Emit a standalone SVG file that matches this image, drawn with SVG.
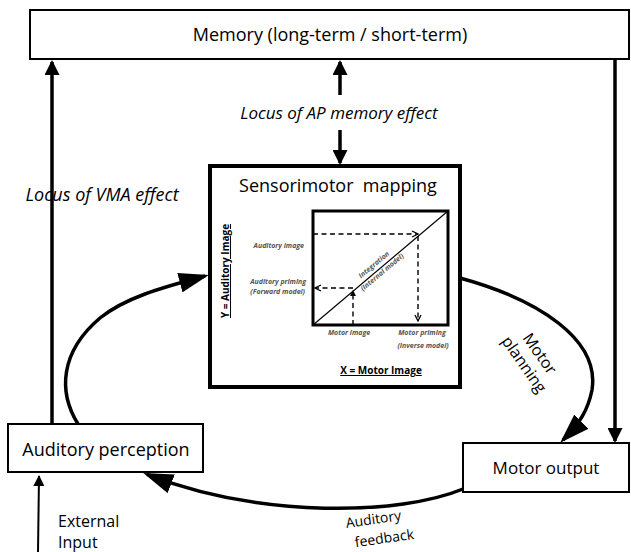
<svg xmlns="http://www.w3.org/2000/svg" width="631" height="552" viewBox="0 0 631 552">
<style>
  .box{fill:#fff;stroke:#000;stroke-width:2}
  .lbl{font-family:"Open Sans","Liberation Sans",sans-serif;fill:#000}
  .big{font-size:18px}
  .it{font-style:italic}
  .small{font-family:"Open Sans","Liberation Sans",sans-serif;font-size:7px;font-style:italic;font-weight:bold;fill:#555}
  .axis{font-family:"Open Sans","Liberation Sans",sans-serif;font-size:10px;font-weight:bold;fill:#000;text-decoration:underline}
  .line{fill:none;stroke:#000;stroke-width:3.5}
  .curve{fill:none;stroke:#000;stroke-width:3.5}
  .dash{fill:none;stroke:#000;stroke-width:1.4;stroke-dasharray:5 3.5}
</style>
<defs>
  <marker id="ahBig" markerUnits="userSpaceOnUse" markerWidth="30" markerHeight="20" viewBox="0 0 30 20" refX="26" refY="10" orient="auto">
    <path d="M0,0 L30,10 L0,20 z" fill="#000"/>
  </marker>
  <marker id="ahMed" markerUnits="userSpaceOnUse" markerWidth="15" markerHeight="15" viewBox="0 0 15 15" refX="13" refY="7.5" orient="auto">
    <path d="M0,0 L15,7.5 L0,15 z" fill="#000"/>
  </marker>
  <marker id="ahSmall" markerUnits="userSpaceOnUse" markerWidth="11" markerHeight="11" viewBox="0 0 11 11" refX="10" refY="5.5" orient="auto">
    <path d="M0,0 L11,5.5 L0,11 z" fill="#000"/>
  </marker>
  <marker id="chev" markerUnits="userSpaceOnUse" markerWidth="8" markerHeight="8" viewBox="0 0 8 8" refX="7" refY="4" orient="auto">
    <path d="M1,1 L7,4 L1,7" fill="none" stroke="#000" stroke-width="1.3"/>
  </marker>
  <marker id="tri" markerUnits="userSpaceOnUse" markerWidth="6" markerHeight="6" viewBox="0 0 6 6" refX="5" refY="3" orient="auto">
    <path d="M0,0 L6,3 L0,6 z" fill="#000"/>
  </marker>
</defs>
<rect width="631" height="552" fill="#fff"/>

<g id="connectors">
  <path id="c-ap-mem" class="line" d="M52,424 V62" marker-end="url(#ahMed)"/>
  <path id="c-sm-mem" class="line" d="M340,95 V62" marker-end="url(#ahMed)"/>
  <path id="c-mem-sm" class="line" d="M340,130 V163" marker-end="url(#ahMed)"/>
  <path id="c-mem-mo" class="line" d="M615,59 V441" marker-end="url(#ahMed)"/>
  <path id="c-ext-ap" fill="none" stroke="#000" stroke-width="2" d="M38,552 L39,476" marker-end="url(#ahSmall)"/>
  <path id="c-ap-sm" class="curve" d="M78,424 C58,392 60,352 100,318 C125,298 160,288 205,276" marker-end="url(#ahBig)"/>
  <path id="c-sm-mo" class="curve" d="M460,278 C540,300 600,340 592,390 C588,410 580,423 563,440" marker-end="url(#ahBig)"/>
  <path id="c-mo-ap" class="curve" d="M463,489 C400,515 262,519 147,474.4" marker-end="url(#ahBig)"/>
  <text class="lbl it" x="339" y="119" font-size="17" text-anchor="middle">Locus of AP memory effect</text>
  <text class="lbl it big" x="102" y="201" text-anchor="middle">Locus of VMA effect</text>
  <text class="lbl" font-size="16" x="58" y="527">External</text>
  <text class="lbl" font-size="16" x="58" y="548">Input</text>
  <text class="lbl" font-size="16" text-anchor="middle" transform="translate(532,359) rotate(55)"><tspan x="0" y="-4">Motor</tspan><tspan x="0" y="15">planning</tspan></text>
  <text class="lbl" font-size="14" text-anchor="middle" transform="translate(374,524) rotate(-8)">Auditory</text>
  <text class="lbl" font-size="14" text-anchor="middle" transform="translate(385,543) rotate(-8)">feedback</text>
</g>

<g id="memory">
  <rect class="box" x="30" y="10" width="599" height="49"/>
  <text class="lbl big" x="330" y="41" text-anchor="middle">Memory (long-term / short-term)</text>
</g>

<g id="auditory-perception">
  <rect class="box" x="8" y="424" width="195" height="48"/>
  <text class="lbl big" x="106" y="456" text-anchor="middle">Auditory perception</text>
</g>

<g id="motor-output">
  <rect class="box" x="463" y="443" width="166" height="49"/>
  <text class="lbl" font-size="17" x="546" y="474" text-anchor="middle">Motor output</text>
</g>

<g id="sensorimotor-mapping">
  <rect x="210" y="166" width="250" height="221" fill="#fff" stroke="#000" stroke-width="4"/>
  <text class="lbl big" x="338" y="192" text-anchor="middle">Sensorimotor&#160; mapping</text>
  <rect x="313" y="211" width="135" height="114" fill="none" stroke="#000" stroke-width="3"/>
  <path d="M313,325 L448,211" fill="none" stroke="#000" stroke-width="1.2"/>
  <path class="dash" d="M313,234 H418" marker-end="url(#chev)"/>
  <path class="dash" d="M418,236 V321" marker-end="url(#chev)"/>
  <path class="dash" d="M353,288 H315" marker-end="url(#chev)"/>
  <path class="dash" d="M353,325 V291" marker-end="url(#tri)"/>
  <text class="small" x="304" y="247.5" text-anchor="end">Auditory image</text>
  <text class="small" x="306" y="284" text-anchor="end">Auditory priming</text>
  <text class="small" x="305" y="293.5" text-anchor="end">(Forward model)</text>
  <text class="small" x="349" y="335" text-anchor="middle">Motor image</text>
  <text class="small" x="422" y="335" text-anchor="middle">Motor priming</text>
  <text class="small" x="423" y="347.5" text-anchor="middle">(Inverse model)</text>
  <text class="small" text-anchor="middle" font-weight="normal" transform="translate(378,269.5) rotate(-40)"><tspan x="0" y="-4">Integration</tspan><tspan x="1.5" y="7">(Internal model)</tspan></text>
  <text class="axis" x="0" y="0" text-anchor="middle" transform="translate(229,271) rotate(-90)">Y = Auditory Image</text>
  <text class="axis" x="381" y="374" text-anchor="middle">X = Motor Image</text>
</g>
</svg>
